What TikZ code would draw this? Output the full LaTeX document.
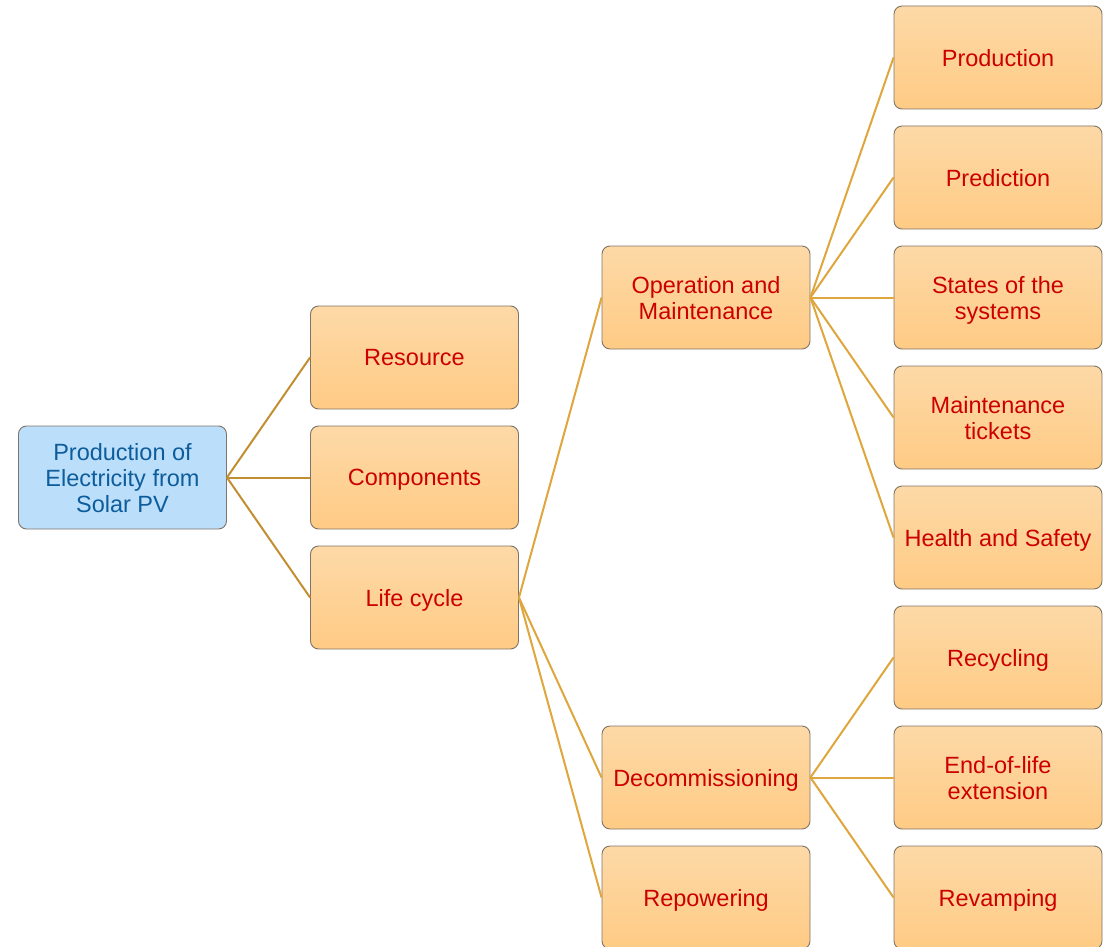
\documentclass[tikz,border=0pt]{standalone}
\usepackage{fontspec}
\setmainfont{Liberation Sans}
\usetikzlibrary{shadings}
\definecolor{boxtop}{HTML}{FDD9A7}
\definecolor{boxbot}{HTML}{FFCB85}
\definecolor{boxline}{HTML}{7F7468}
\definecolor{redtext}{HTML}{CC0000}
\definecolor{bluefill}{HTML}{BBDEFB}
\definecolor{bluetext}{HTML}{0D5D9C}
\definecolor{darklink}{HTML}{C38D32}
\definecolor{lightlink}{HTML}{DEA63C}
\tikzset{
  box/.style={draw=boxline, line width=0.9pt, rounded corners=8pt, top color=boxtop, bottom color=boxbot,
    minimum width=208pt, minimum height=103pt, align=center, text=redtext, font=\fontsize{23.5}{26}\selectfont, inner sep=0pt, text depth=0pt},
  rootbox/.style={draw=boxline, line width=0.9pt, rounded corners=8pt, fill=bluefill,
    minimum width=208pt, minimum height=103pt, align=center, text=bluetext, font=\fontsize{23.5}{26}\selectfont, inner sep=0pt, text depth=0pt},
  rlink/.style={draw=darklink, line width=2pt},
  link/.style={draw=lightlink, line width=2pt}
}
\begin{document}
\begin{tikzpicture}[x=1pt,y=-1pt]
\useasboundingbox (0,0) rectangle (1114,947);
\clip (0,0) rectangle (1114,947);
\node[rootbox] (root) at (122.5,477.5) {Production of\\Electricity from\\Solar PV};
\node[box] (res) at (414.5,357.5) {Resource};
\node[box] (comp) at (414.5,477.5) {Components};
\node[box] (life) at (414.5,597.5) {Life cycle};
\node[box] (om) at (706,297.5) {Operation and\\Maintenance};
\node[box] (dec) at (706,777.5) {Decommissioning};
\node[box] (rep) at (706,897.5) {Repowering};
\node[box] (prod) at (998,57.5) {Production};
\node[box] (pred) at (998,177.5) {Prediction};
\node[box] (state) at (998,297.5) {States of the\\systems};
\node[box] (tick) at (998,417.5) {Maintenance\\tickets};
\node[box] (hs) at (998,537.5) {Health and Safety};
\node[box] (rec) at (998,657.5) {Recycling};
\node[box] (eol) at (998,777.5) {End-of-life\\extension};
\node[box] (rev) at (998,897.5) {Revamping};
\foreach \c in {res,comp,life} \draw[rlink] (root.east) -- (\c.west);
\foreach \c in {om,dec,rep} \draw[link] (life.east) -- (\c.west);
\foreach \c in {prod,pred,state,tick,hs} \draw[link] (om.east) -- (\c.west);
\foreach \c in {rec,eol,rev} \draw[link] (dec.east) -- (\c.west);
\end{tikzpicture}
\end{document}
